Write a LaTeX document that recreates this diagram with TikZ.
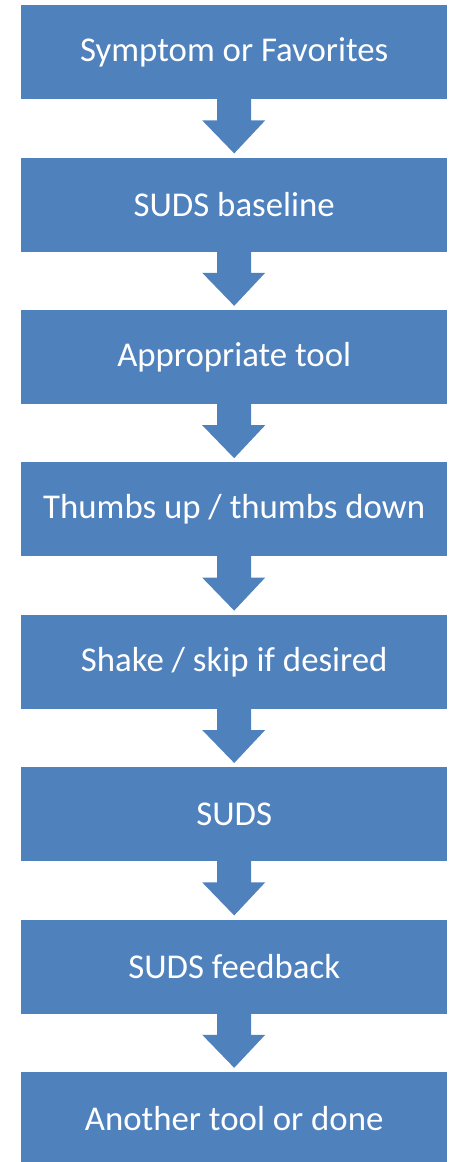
\documentclass[tikz,border=0pt]{standalone}
\usepackage{fontspec}
\setmainfont{Carlito}
\usetikzlibrary{calc}
\definecolor{boxblue}{HTML}{4F81BD}
\begin{document}
\begin{tikzpicture}[x=1pt,y=-1pt,
  flowbox/.style={fill=boxblue, draw=none, minimum width=426pt, minimum height=94pt, inner sep=0pt, text=white, font=\fontsize{34.8}{40}\selectfont, anchor=north west},
  blockarrow/.style={fill=boxblue, draw=none}]
\useasboundingbox (0,0) rectangle (450,1162);
\foreach \t [count=\i] in {Symptom or Favorites,SUDS baseline,Appropriate tool,Thumbs up / thumbs down,Shake / skip if desired,SUDS,SUDS feedback,Another tool or done}{
  \node[flowbox] (b\i) at (21,{5+(\i-1)*152.4}) {\t};
}
\foreach \i [evaluate=\i as \j using int(\i+1)] in {1,...,7}{
  \fill[blockarrow] ($(b\i.south)+(-17,-2)$) -- ($(b\i.south)+(-17,21)$) -- ($(b\i.south)+(-32,21)$)
    -- ($(b\j.north)+(0,-4)$) -- ($(b\i.south)+(31,21)$) -- ($(b\i.south)+(17,21)$) -- ($(b\i.south)+(17,-2)$) -- cycle;
}
\end{tikzpicture}
\end{document}
